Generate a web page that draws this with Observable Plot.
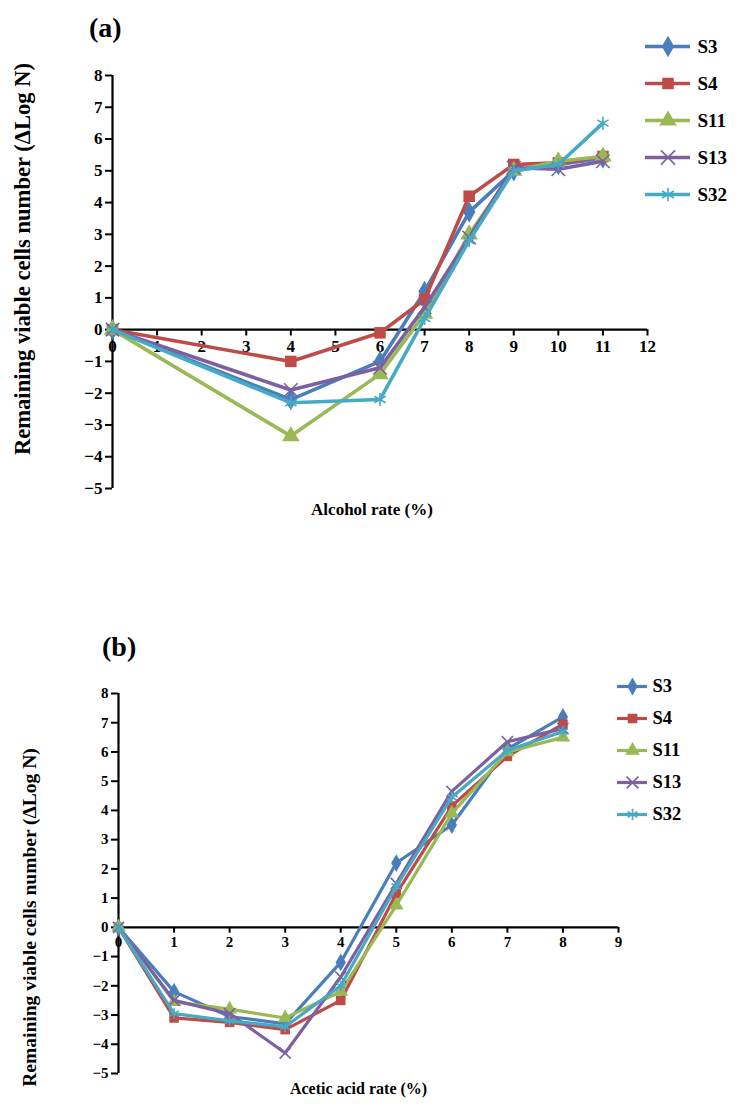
<!DOCTYPE html>
<html><head><meta charset="utf-8">
<script src="https://cdn.jsdelivr.net/npm/d3@7"></script>
<script src="https://cdn.jsdelivr.net/npm/@observablehq/plot@0.6"></script>
<style>
body{margin:0;background:#fff;}
#wrap{position:relative;width:742px;height:1108px;overflow:hidden;font-family:"Liberation Serif","Times New Roman",serif;font-weight:bold;}
#wrap > *{position:absolute;}
.ttl{font-size:28px;color:#000;line-height:1;}
</style></head><body><div id="wrap"></div>
<script>
const seriesNames = ["S3","S4","S11","S13","S32"];
const seriesColors = ["#4a7ebb","#be4b48","#98b954","#7d60a0","#46aac5"];
const seriesSymbols = ["diamond","square","triangle","times","asterisk"];

const alcoholRates = [0,4,6,7,8,9,10,11];
const alcoholS3  = [0,-2.2,-1.0,1.2,3.7,5.0,5.2,5.4];
const alcoholS4  = [0,-1.0,-0.1,0.95,4.2,5.2,5.25,5.45];
const alcoholS11 = [0,-3.35,-1.4,0.5,3.0,5.0,5.3,5.45];
const alcoholS13 = [0,-1.9,-1.2,0.7,2.9,5.1,5.05,5.3];
const alcoholS32 = [0,-2.3,-2.2,0.35,2.8,5.0,5.2,6.5];

const aceticRates = [0,1,2,3,4,5,6,7,8];
const aceticS3  = [0,-2.2,-3.05,-3.3,-1.2,2.2,3.5,6.1,7.2];
const aceticS4  = [0,-3.1,-3.25,-3.5,-2.5,1.15,4.15,5.85,6.95];
const aceticS11 = [0,-2.55,-2.8,-3.1,-2.2,0.75,3.9,6.0,6.5];
const aceticS13 = [0,-2.5,-2.95,-4.3,-1.7,1.5,4.65,6.35,6.8];
const aceticS32 = [0,-2.95,-3.2,-3.4,-2.0,1.4,4.45,6.05,6.7];

const yTicks = d3.range(-5, 9);
const alcoholTicks = d3.range(0, 13);
const aceticTicks = d3.range(0, 10);
const yLabel = "Remaining viable cells number (\u0394Log N)";

const wrap = document.getElementById("wrap");
const FONT = '"Liberation Serif","Times New Roman",serif';

function toRows(xs, seriesArrays) {
  const rows = [];
  seriesArrays.forEach((vals, i) => vals.forEach((v, j) => rows.push({series: seriesNames[i], x: xs[j], y: v})));
  return rows;
}

function seriesMarks(rows, sw, r) {
  const marks = [];
  seriesNames.forEach((s, i) => {
    const d = rows.filter(r0 => r0.series === s);
    const filled = i < 3;
    marks.push(Plot.line(d, {x: "x", y: "y", stroke: seriesColors[i], strokeWidth: sw}));
    marks.push(Plot.dot(d, {x: "x", y: "y", symbol: () => seriesSymbols[i], r: filled ? r : r * 0.95,
      fill: filled ? seriesColors[i] : "none", stroke: seriesColors[i], strokeWidth: filled ? 0 : 1.6}));
  });
  return marks;
}

function panel(cfg) {
  const rows = toRows(cfg.xs, cfg.series);
  const p = Plot.plot({
    width: 742, height: cfg.height,
    marginTop: cfg.mt, marginBottom: cfg.mb, marginLeft: cfg.ml, marginRight: cfg.mr,
    style: {fontFamily: FONT, fontWeight: "bold", fontSize: cfg.fs + "px", color: "#000", background: "transparent", overflow: "visible"},
    x: {domain: cfg.xdomain, axis: null},
    y: {domain: [-5, 8]},
    marks: [
      Plot.axisY(yTicks, {tickSize: 7, tickPadding: 3, strokeWidth: 2, label: null, fontSize: cfg.fs, fontWeight: "bold"}),
      Plot.text([yLabel], {frameAnchor: "left", textAnchor: "middle", rotate: -90, dx: cfg.ylabelDx, dy: cfg.ylabelDy, text: d => d,
        fontSize: cfg.ylabelFs, fontWeight: "bold"}),
      Plot.ruleX([0], {strokeWidth: 2.2}),
      Plot.ruleY([0], {strokeWidth: 2.2}),
      Plot.ruleX(cfg.xticks, {x: d => d, y1: 0, y2: cfg.tickLen, strokeWidth: 2}),
      Plot.text(cfg.xticks, {x: d => d, y: 0, dy: cfg.tickDy, text: d => String(d), fontSize: cfg.fs, fontWeight: "bold"}),
      Plot.text([cfg.xlabel], {frameAnchor: "bottom", dy: cfg.xlabelDy, dx: cfg.xlabelDx, text: d => d, fontSize: cfg.xlabelFs, fontWeight: "bold"}),
      ...seriesMarks(rows, cfg.sw, cfg.r)
    ]
  });
  p.style.left = "0px"; p.style.top = cfg.top + "px";
  wrap.appendChild(p);
}

function legend(cfg) {
  const marks = [];
  seriesNames.forEach((s, i) => {
    const filled = i < 3;
    marks.push(Plot.ruleY([s], {y: d => d, x1: 0, x2: cfg.lineEnd, stroke: seriesColors[i], strokeWidth: cfg.sw}));
    marks.push(Plot.dot([s], {y: d => d, x: cfg.lineEnd / 2, symbol: () => seriesSymbols[i], r: cfg.r,
      fill: filled ? seriesColors[i] : "none", stroke: seriesColors[i], strokeWidth: filled ? 0 : 1.6}));
  });
  marks.push(Plot.text(seriesNames, {y: d => d, x: cfg.textX, text: d => d, textAnchor: "start", fontSize: cfg.fs, fontWeight: "bold"}));
  const p = Plot.plot({
    width: cfg.width, height: cfg.height, margin: 0,
    style: {fontFamily: FONT, fontWeight: "bold", color: "#000", background: "transparent", overflow: "visible"},
    x: {domain: [0, 1], range: [0, cfg.width], axis: null},
    y: {type: "point", domain: seriesNames, range: cfg.yrange, padding: 0, axis: null},
    marks
  });
  p.style.left = cfg.left + "px"; p.style.top = cfg.top + "px";
  wrap.appendChild(p);
}

panel({top: 0, height: 530, mt: 75, mb: 42, ml: 112, mr: 95, fs: 17,
  ylabelDx: -90, ylabelDy: -23, ylabelFs: 22.6,
  xdomain: [0, 12], xticks: alcoholTicks, tickLen: -0.2, tickDy: 17,
  xs: alcoholRates, series: [alcoholS3, alcoholS4, alcoholS11, alcoholS13, alcoholS32],
  xlabel: "Alcohol rate (%)", xlabelDy: 26, xlabelDx: -8, xlabelFs: 17, sw: 3.6, r: 6.5});

panel({top: 600, height: 508, mt: 93, mb: 35, ml: 118, mr: 124, fs: 15,
  ylabelDx: -89, ylabelDy: 34, ylabelFs: 19.5,
  xdomain: [0, 9], xticks: aceticTicks, tickLen: -0.2, tickDy: 15,
  xs: aceticRates, series: [aceticS3, aceticS4, aceticS11, aceticS13, aceticS32],
  xlabel: "Acetic acid rate (%)", xlabelDy: 20, xlabelDx: -10, xlabelFs: 16, sw: 3.2, r: 5.4});

legend({left: 645, top: 30, width: 95, height: 180, yrange: [15, 165], lineEnd: 45 / 95, textX: 52 / 95, sw: 3.6, r: 6.5, fs: 19});
legend({left: 617, top: 670, width: 90, height: 160, yrange: [15, 144], lineEnd: 30 / 90, textX: 35 / 90, sw: 3.2, r: 5.4, fs: 18.5});

const ta = document.createElement("div"); ta.className = "ttl"; ta.textContent = "(a)";
ta.style.left = "89px"; ta.style.top = "14px"; wrap.appendChild(ta);
const tb = document.createElement("div"); tb.className = "ttl"; tb.textContent = "(b)";
tb.style.left = "102px"; tb.style.top = "633px"; wrap.appendChild(tb);
</script></body></html>
